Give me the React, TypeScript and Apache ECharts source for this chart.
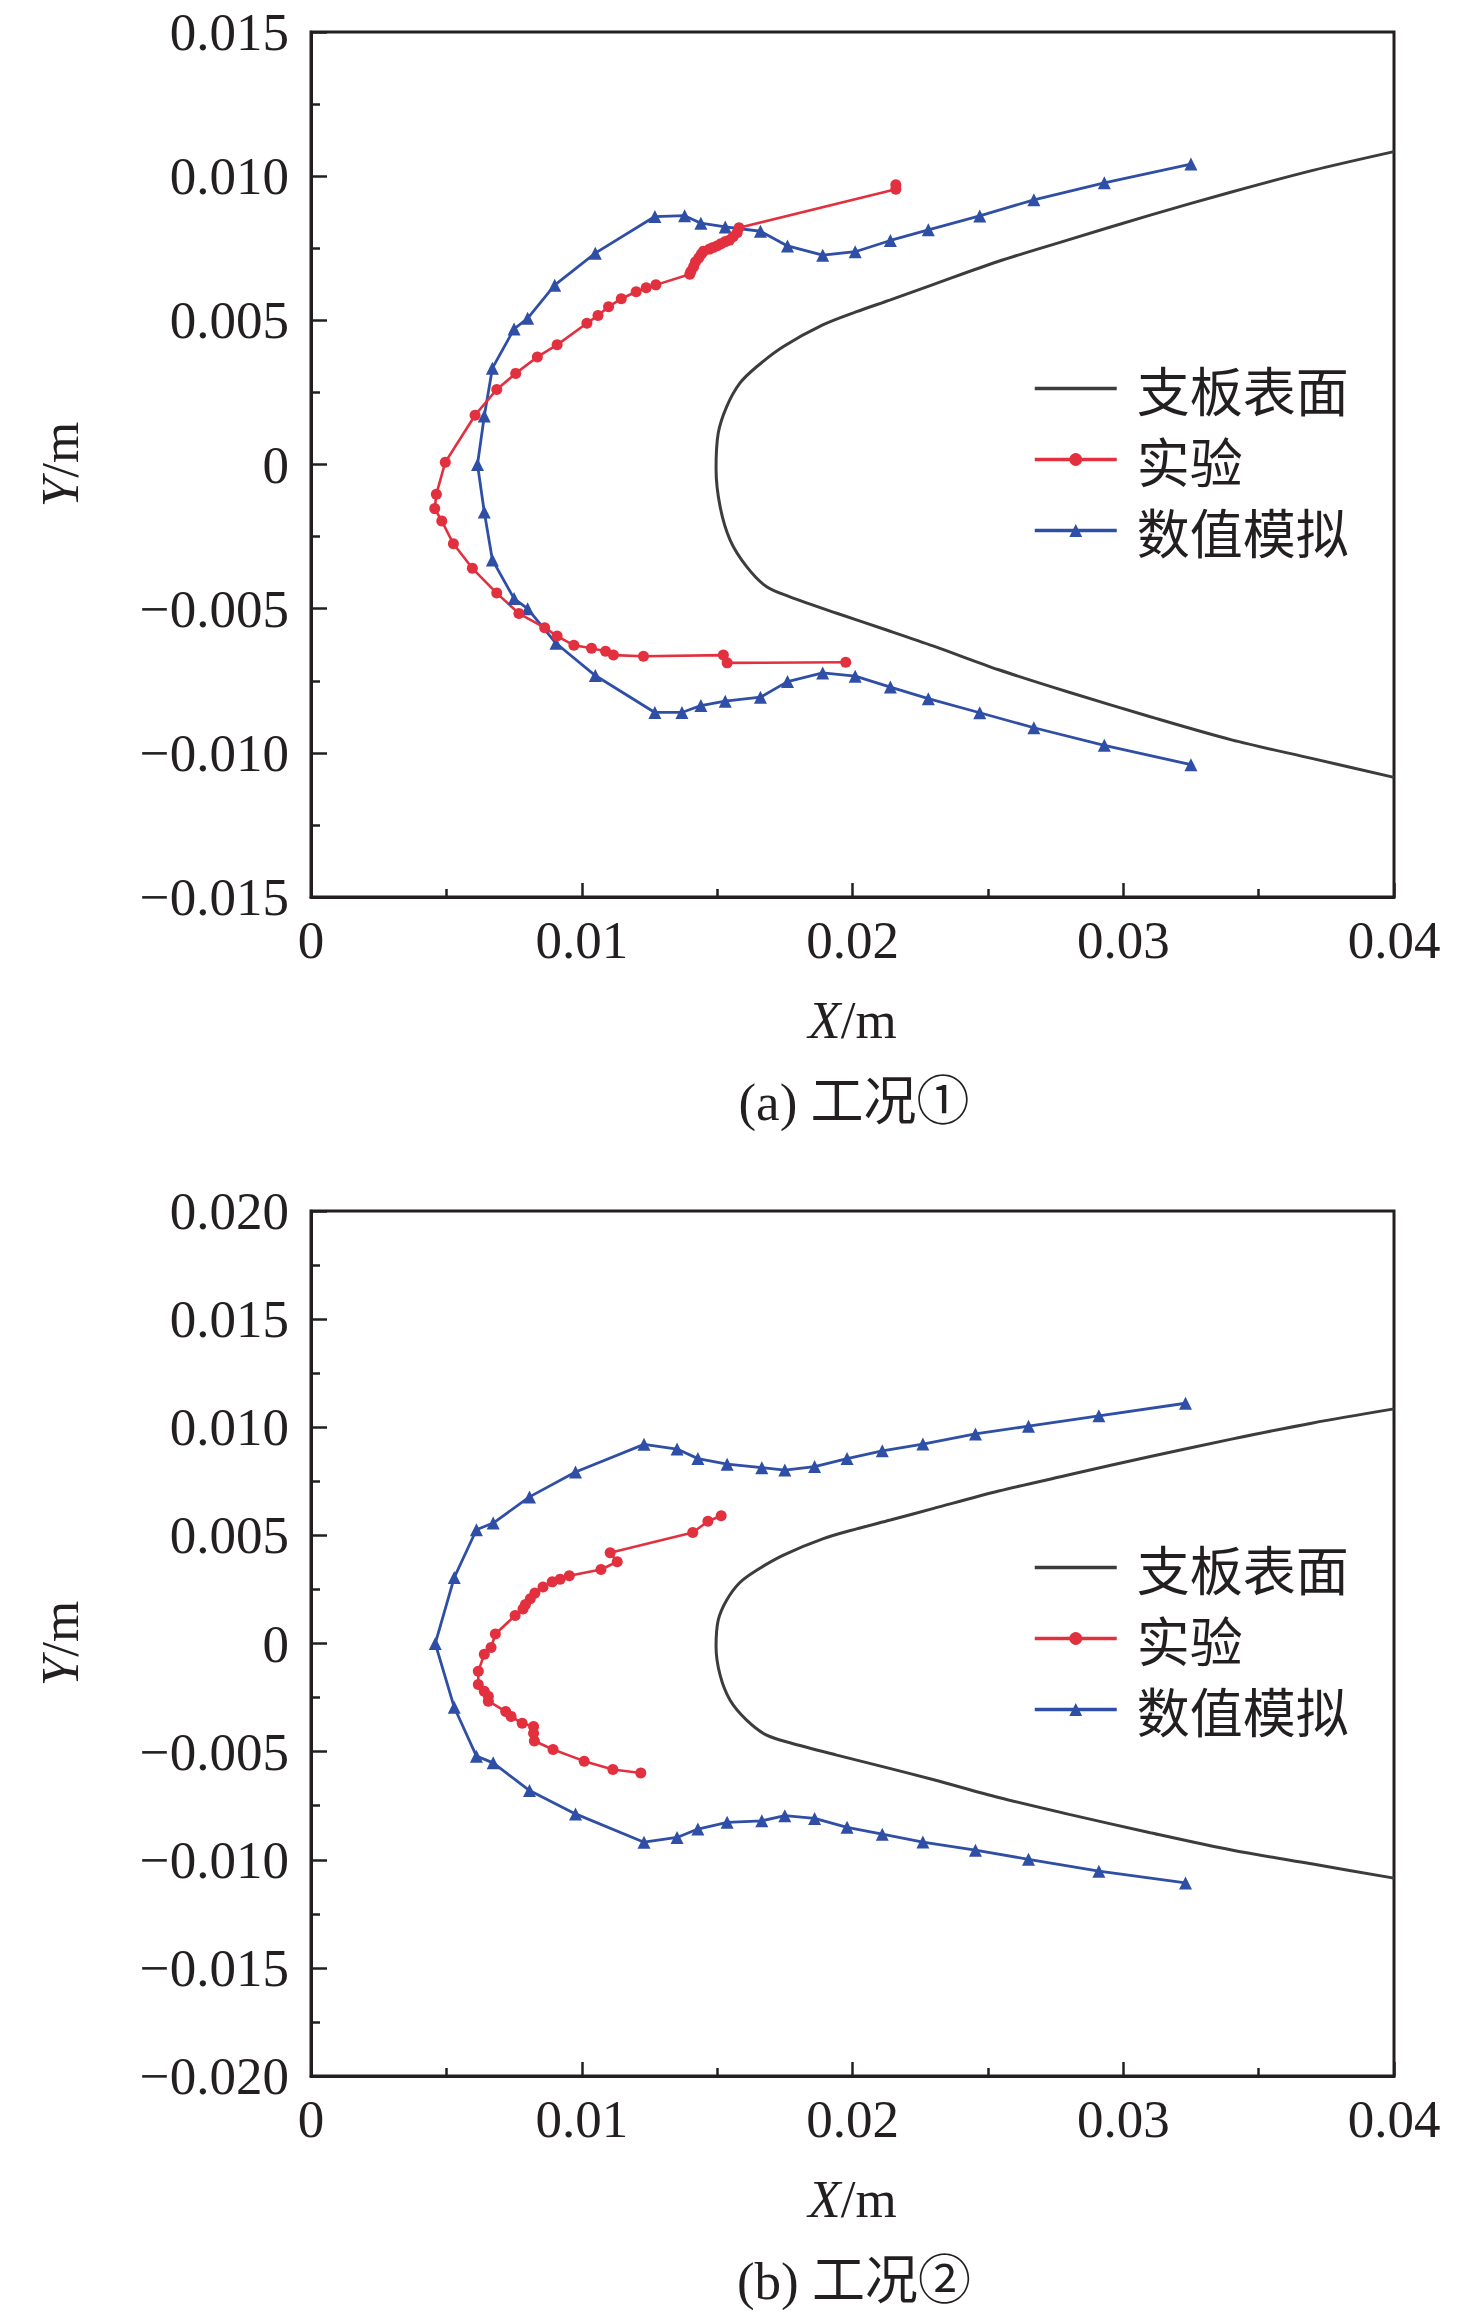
import React, { useEffect, useRef } from "react";
import * as echarts from "echarts";

// ---------- data (metres) ----------
const surfaceProfile: number[][] = [
  [0.040, 0.01085], [0.037, 0.0102], [0.034, 0.00945], [0.031, 0.00865], [0.028, 0.0078],
  [0.0254, 0.00705], [0.023, 0.00625], [0.0214, 0.00571], [0.02015, 0.0053], [0.0189, 0.00484],
  [0.01745, 0.00409], [0.01646, 0.00339], [0.01584, 0.00282], [0.01535, 0.002], [0.01504, 0.00108],
  [0.01496, -0.00015], [0.01511, -0.00146], [0.01548, -0.00262], [0.01609, -0.00354], [0.01683, -0.00424],
  [0.01769, -0.00459], [0.01942, -0.00516], [0.02126, -0.00574], [0.023, -0.0063], [0.0254, -0.00712],
  [0.028, -0.0079], [0.031, -0.00875], [0.034, -0.00955], [0.037, -0.0102], [0.040, -0.01085],
];

const experiment1: number[][] = [
  [0.0216, 0.0097], [0.0216, 0.00955], [0.01581, 0.00821], [0.01574, 0.00804], [0.01559, 0.0079],
  [0.01545, 0.00778], [0.0153, 0.00773], [0.01515, 0.00766], [0.01501, 0.00759], [0.01486, 0.00753],
  [0.01472, 0.00747], [0.0145, 0.0074], [0.01442, 0.0073], [0.01432, 0.00716], [0.0142, 0.00702],
  [0.01413, 0.00686], [0.01403, 0.00669], [0.01399, 0.0066], [0.01274, 0.00623], [0.01238, 0.00613],
  [0.01201, 0.00599], [0.01146, 0.00575], [0.01099, 0.00547], [0.0106, 0.00517], [0.01019, 0.0049],
  [0.00909, 0.00415], [0.00836, 0.00373], [0.00756, 0.00316], [0.00686, 0.0026], [0.00606, 0.00171],
  [0.00496, 0.00008], [0.00463, -0.00103], [0.00457, -0.00153], [0.00483, -0.00196], [0.00526, -0.00275],
  [0.00596, -0.0036], [0.00686, -0.00446], [0.00768, -0.00517], [0.00863, -0.00566], [0.00909, -0.00595],
  [0.00971, -0.00627], [0.01036, -0.00637], [0.01088, -0.00648], [0.01117, -0.00661], [0.01228, -0.00665],
  [0.01523, -0.00661], [0.01537, -0.00688], [0.01975, -0.00686],
];

const simulation1: number[][] = [
  [0.0325, 0.01042], [0.0293, 0.00977], [0.0267, 0.00918], [0.0247, 0.00862], [0.0228, 0.00814],
  [0.0214, 0.00777], [0.0201, 0.00738], [0.0189, 0.00726], [0.0176, 0.00758], [0.0166, 0.00809],
  [0.0153, 0.00824], [0.0144, 0.00837], [0.0138, 0.00863], [0.0127, 0.0086], [0.0105, 0.00733],
  [0.0090, 0.00622], [0.0080, 0.00507], [0.0075, 0.0047], [0.0067, 0.00334], [0.0064, 0.00168],
  [0.00615, 0], [0.0064, -0.00165], [0.0067, -0.00331], [0.0075, -0.00465], [0.0080, -0.005],
  [0.00905, -0.0062], [0.0105, -0.00732], [0.0127, -0.0086], [0.0137, -0.0086], [0.0144, -0.00836],
  [0.0153, -0.00821], [0.0166, -0.00807], [0.0176, -0.00753], [0.0189, -0.00723], [0.0201, -0.00734],
  [0.0214, -0.00772], [0.0228, -0.00812], [0.0247, -0.00861], [0.0267, -0.00913], [0.0293, -0.00974],
  [0.0325, -0.01041],
];

const experiment2: number[][] = [
  [0.01515, 0.00591], [0.01466, 0.00565], [0.0141, 0.00513], [0.01105, 0.0042], [0.01131, 0.00378],
  [0.01071, 0.00342], [0.00954, 0.00313], [0.0092, 0.00297], [0.00891, 0.00285], [0.00857, 0.00261],
  [0.00827, 0.00233], [0.0081, 0.00207], [0.00792, 0.0018], [0.00783, 0.0016], [0.00754, 0.00129],
  [0.00681, 0.00044], [0.00665, -0.00019], [0.0064, -0.0005], [0.00618, -0.00128], [0.00618, -0.0019],
  [0.0064, -0.00221], [0.00655, -0.00244], [0.00655, -0.00267], [0.00719, -0.00314], [0.00739, -0.00337],
  [0.0078, -0.00369], [0.00822, -0.00384], [0.00822, -0.00415], [0.00825, -0.00451], [0.00894, -0.0049],
  [0.01009, -0.00544], [0.01115, -0.00583], [0.01218, -0.00599],
];

const simulation2: number[][] = [
  [0.0323, 0.01111], [0.0291, 0.01053], [0.0265, 0.01005], [0.02454, 0.00969], [0.0226, 0.00922],
  [0.0211, 0.00891], [0.0198, 0.00855], [0.0186, 0.00818], [0.0175, 0.00802], [0.01665, 0.00813],
  [0.01537, 0.00829], [0.01429, 0.00855], [0.01352, 0.00899], [0.0123, 0.00921], [0.00977, 0.00793],
  [0.00807, 0.00678], [0.00673, 0.00557], [0.00611, 0.00526], [0.00529, 0.00305], [0.00459, 0],
  [0.00529, -0.00295], [0.00611, -0.00521], [0.00673, -0.00552], [0.00807, -0.0068], [0.00977, -0.00788],
  [0.0123, -0.00919], [0.01352, -0.00897], [0.01429, -0.00858], [0.01537, -0.00827], [0.01665, -0.0082],
  [0.0175, -0.00796], [0.0186, -0.00809], [0.0198, -0.0085], [0.0211, -0.00882], [0.0226, -0.00918],
  [0.02454, -0.00956], [0.0265, -0.00998], [0.0291, -0.01053], [0.0323, -0.01107],
];

const seriesNames = ["支板表面", "实验", "数值模拟"];
const captions = ["(a) 工况①", "(b) 工况②"];
const yRanges = [[-0.015, 0.015], [-0.02, 0.02]];

// ---------- style ----------
const AX = "#231f20";
const RED = "#e2303f";
const BLUE = "#2f4fa6";
const GREY = "#3c3c3c";
const FONT = '"Liberation Serif", "Times New Roman", "Noto Sans CJK SC", serif';
const CJK = '"Noto Sans CJK SC", sans-serif';
const FS = 53;
const GRID_TOPS = [32, 1211];
const GRID_LEFT = 311;
const GRID_W = 1083;
const GRID_H = 865;

const fmtY = (v: number) => {
  if (Math.abs(v) < 1e-9) return "0";
  return (v < 0 ? "\u2212" : "") + Math.abs(v).toFixed(3);
};
const fmtX = (v: number) => (Math.abs(v) < 1e-9 ? "0" : v.toFixed(2));

const nameStyle = {
  fontSize: FS,
  fontFamily: FONT,
  color: AX,
  rich: { i: { fontStyle: "italic", fontSize: FS, fontFamily: FONT, color: AX } },
};

function buildOption() {
  const grids = GRID_TOPS.map((t) => ({
    left: GRID_LEFT, top: t, width: GRID_W, height: GRID_H,
    show: true, borderColor: AX, borderWidth: 3, backgroundColor: "transparent",
  }));
  const xAxes = GRID_TOPS.map((_, i) => ({
    gridIndex: i, type: "value", min: 0, max: 0.04, interval: 0.01,
    axisLine: { show: true, onZero: false, lineStyle: { color: AX, width: 3 } },
    axisTick: { show: true, inside: true, length: 14, lineStyle: { color: AX, width: 2.5 } },
    minorTick: { show: true, splitNumber: 2, length: 8, lineStyle: { color: AX, width: 2.5 } },
    splitLine: { show: false },
    axisLabel: { fontSize: FS, fontFamily: FONT, color: AX, margin: 16, formatter: fmtX },
    name: "{i|X}/m", nameLocation: "middle", nameGap: 96, nameTextStyle: nameStyle,
  }));
  const yAxes = GRID_TOPS.map((_, i) => ({
    gridIndex: i, type: "value", min: yRanges[i][0], max: yRanges[i][1], interval: 0.005,
    axisLine: { show: true, onZero: false, lineStyle: { color: AX, width: 3 } },
    axisTick: { show: true, inside: true, length: 16, lineStyle: { color: AX, width: 2.5 } },
    minorTick: { show: true, splitNumber: 2, length: 9, lineStyle: { color: AX, width: 2.5 } },
    splitLine: { show: false },
    axisLabel: { fontSize: FS, fontFamily: FONT, color: AX, margin: 22, formatter: fmtY },
    name: "{i|Y}/m", nameLocation: "middle", nameGap: 225, nameTextStyle: nameStyle,
  }));
  const exps = [experiment1, experiment2];
  const sims = [simulation1, simulation2];
  const series: any[] = [];
  GRID_TOPS.forEach((_, i) => {
    series.push({
      name: seriesNames[0], type: "line", xAxisIndex: i, yAxisIndex: i,
      data: surfaceProfile, showSymbol: false, symbol: "none", smooth: 0.3,
      lineStyle: { color: GREY, width: 3 }, itemStyle: { color: GREY },
    });
    series.push({
      name: seriesNames[2], type: "line", xAxisIndex: i, yAxisIndex: i,
      data: sims[i], symbol: "triangle", symbolSize: 13,
      lineStyle: { color: BLUE, width: 2.8 }, itemStyle: { color: BLUE },
    });
    series.push({
      name: seriesNames[1], type: "line", xAxisIndex: i, yAxisIndex: i,
      data: exps[i], symbol: "circle", symbolSize: 11,
      lineStyle: { color: RED, width: 2.6 }, itemStyle: { color: RED },
    });
  });
  const legendData = [
    { name: seriesNames[0], itemStyle: { color: "rgba(0,0,0,0)", borderWidth: 0, opacity: 0 } },
    { name: seriesNames[1] },
    { name: seriesNames[2] },
  ];
  const legends = GRID_TOPS.map((t) => ({
    orient: "vertical", left: 1033, top: t + 330, padding: 0,
    itemWidth: 82, itemHeight: 16, itemGap: 18,
    lineStyle: { width: 3.5 },
    textStyle: { fontSize: FS, lineHeight: FS, fontFamily: CJK, color: AX, padding: [0, 0, 0, 15] },
    data: legendData, selectedMode: false,
  }));
  const graphic = GRID_TOPS.map((t, i) => ({
    type: "text", x: 854, y: t + GRID_H + 205,
    style: {
      text: captions[i], fontSize: FS, fontFamily: FONT, fill: AX,
      align: "center", verticalAlign: "middle",
    },
  }));
  return {
    animation: false,
    backgroundColor: "#ffffff",
    grid: grids, xAxis: xAxes, yAxis: yAxes, series, legend: legends, graphic,
  };
}

export default function App() {
  const ref = useRef<HTMLDivElement>(null);
  useEffect(() => {
    if (!ref.current) return;
    const chart = echarts.init(ref.current, undefined, { renderer: "svg" });
    chart.setOption(buildOption() as any);
    return () => chart.dispose();
  }, []);
  return (
    <div
      ref={ref}
      style={{ position: "absolute", left: 0, top: 0, width: 1476, height: 2319 }}
    />
  );
}
